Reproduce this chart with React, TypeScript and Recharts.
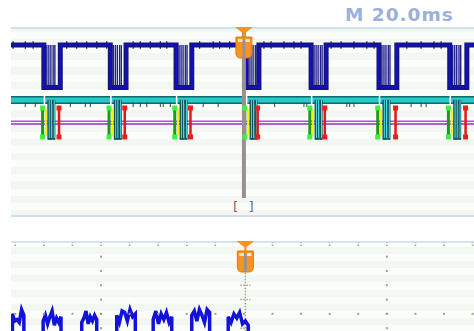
import { ComposedChart, Line, XAxis, YAxis, CartesianGrid, ReferenceLine, ReferenceDot, Scatter } from "recharts"

// time axis in ms, trigger at 0, 20 ms per major division
const timeDomain: [number, number] = [-32.6, 32.2]
const minorTimes = [-32, -28, -24, -20, -16, -12, -8, -4, 0, 4, 8, 12, 16, 20, 24, 28, 32]
const majorTimes = [-20, 20]
const triggerTime = 0
const lowerTriggerTime = 0.2

// channel 1 (upper window), levels in divisions
const highLevel = 7.24
const lowLevel = 5.45
const dipStart = [-28.0, -18.7, -9.5, 0.3, 9.4, 18.9, 28.8]
const dipEnd = [-25.7, -16.5, -7.3, 2.1, 11.5, 21.4, 31.2]
const burstOffsets = [0.42, 0.7, 0.98, 1.3, 1.54]
const noiseTimes = [-32.3, -30.6, -29.5, -24.8, -23.4, -22.0, -20.6, -19.2, -15.5, -14.5, -13.1, -11.7, -10.8, -6.2, -4.3, -3.4, -2.0, 2.8, 3.8, 5.6, 7.0, 8.0, 12.2, 13.6, 15.4, 17.2, 18.2, 22.8, 24.8, 26.6, 27.6]

// bus decode + markers
const busLevel = 4.93
const busTicks = [-30.6, -29.2, -24.3, -22.2, -21.5, -15.5, -14.5, -13.6, -11.7, -11.3, -10.3, -5.7, -3.6, 4.3, 8.4, 8.8, 14.4, 14.8, 15.4, 23.4, 24.8, 25.5]
const markerTop = 4.59
const markerBottom = 3.37
const greenOffset = -0.18
const yellowOffset = 0.28
const cyanOffsets = [0.7, 1.0, 1.4]
const redOffset = -0.18
const purpleUpper = 4.03
const purpleLower = 3.92

// lower window trace
const lowerBase = -1.5
const bumpStart = [-32.4, -28.1, -22.7, -17.8, -12.7, -7.3, -2.2]
const bumpEnd = [-30.8, -25.6, -20.6, -15.2, -10.1, -4.8, 0.6]
const bumpTops = [
  [1.0, 0.5, 0.6, 0.4, 1.3, 0.9],
  [0.5, 0.9, 0.3, 0.8, 1.2, 0.2, 0.7, 0.4, 0.8],
  [0.4, 0.7, 1.2, 0.3, 0.8, 0.5, 0.9, 0.6],
  [0.9, 0.4, 1.2, 1.1, 0.5, 1.3, 0.8, 1.0],
  [0.6, 1.2, 0.3, 1.0, 0.6, 1.1, 0.4, 0.8],
  [0.9, 1.2, 0.5, 1.3, 0.9, 0.4, 1.3, 1.1],
  [0.8, 0.4, 1.0, 0.7, 1.1, 0.3, 0.5, 0.2],
]

const upperStripes = Array.from({ length: 28 }, (_, i) => Math.min(8, i * 0.3))
const lowerStripes = Array.from({ length: 18 }, (_, i) => -2.3 + i * 0.5)

const squareWave = (() => {
  const rows = [{ t: timeDomain[0], v: highLevel }]
  dipStart.forEach((s, i) => {
    rows.push({ t: s, v: highLevel }, { t: s, v: lowLevel }, { t: dipEnd[i], v: lowLevel }, { t: dipEnd[i], v: highLevel })
  })
  rows.push({ t: timeDomain[1], v: highLevel })
  return rows
})()

const busLine = [{ t: timeDomain[0], v: busLevel }, { t: timeDomain[1], v: busLevel }]
const purpleA = [{ t: timeDomain[0], v: purpleUpper }, { t: timeDomain[1], v: purpleUpper }]
const purpleB = [{ t: timeDomain[0], v: purpleLower }, { t: timeDomain[1], v: purpleLower }]

const lowerTrace = (() => {
  const rows: { t: number; v: number }[] = [{ t: timeDomain[0], v: lowerBase }]
  bumpStart.forEach((s, i) => {
    const tops = bumpTops[i]
    const step = (bumpEnd[i] - s) / (tops.length - 1)
    rows.push({ t: s, v: lowerBase })
    tops.forEach((v, k) => rows.push({ t: s + k * step, v }))
    rows.push({ t: bumpEnd[i], v: lowerBase })
  })
  return rows
})()

const greenEnds = dipStart.flatMap((s) => [{ t: s + greenOffset, v: markerTop }, { t: s + greenOffset, v: markerBottom }])
const redEnds = dipEnd.flatMap((e) => [{ t: e + redOffset, v: markerTop }, { t: e + redOffset, v: markerBottom }])

const gridDots = [
  ...minorTimes.map((t) => ({ t, v: 1 })),
  ...majorTimes.flatMap((t) => [0, 1, 2, 3, 4, 5].map((v) => ({ t, v }))),
]

const W = 463

const sq = (color: string) => (p: any) => (
  <rect x={p.cx - 2.5} y={p.cy - 2.5} width={5} height={5} fill={color} />
)
const dot = (p: any) => <rect x={p.cx - 1} y={p.cy - 1} width={2} height={2} fill="#a89f86" />

const Marker = (p: any) => {
  const { cx, cy } = p
  return (
    <g>
      <path d={`M${cx - 9},${cy} L${cx + 9},${cy} L${cx},${cy + 7} Z`} fill="#f7931e" />
      <rect x={cx - 1} y={cy + 6} width={2} height={4} fill="#f7931e" />
      <path
        d={`M${cx - 8},${cy + 10} H${cx + 8} V${cy + 26} Q${cx + 8},${cy + 31} ${cx + 3},${cy + 31} H${cx - 3} Q${cx - 8},${cy + 31} ${cx - 8},${cy + 26} Z`}
        fill="#f7931e"
        stroke="#e07b00"
      />
      <rect x={cx - 6} y={cy + 12} width={12} height={3} fill="#fde6c4" />
      <rect x={cx - 1.5} y={cy + 12} width={3} height={19} fill="#9a9090" />
    </g>
  )
}

const Brackets = (p: any) => (
  <text x={p.cx} y={p.cy} textAnchor="middle" fontFamily="DejaVu Sans Mono" fontSize={12} fill="#606060" letterSpacing={1}>
    [ ]
  </text>
)

const lineProps = { dot: false, activeDot: false, isAnimationActive: false } as const

export default function App() {
  return (
    <div style={{ position: "absolute", left: 0, top: 0, width: 474, height: 331, overflow: "hidden", background: "#fff" }}>
      <svg width={474} height={28} style={{ position: "absolute", left: 0, top: 0 }}>
        <text x={345} y={21} fontFamily="DejaVu Sans" fontWeight="bold" fontSize={18.5} fill="#9db0d8" letterSpacing={1}>
          M 20.0ms
        </text>
      </svg>

      <div style={{ position: "absolute", left: 11, top: 27 }}>
        <ComposedChart width={W} height={190} margin={{ top: 0, right: 0, bottom: 0, left: 0 }}>
          <XAxis dataKey="t" type="number" domain={timeDomain} hide allowDataOverflow />
          <YAxis dataKey="v" type="number" domain={[0, 8]} ticks={upperStripes} interval={0} hide allowDataOverflow />
          <CartesianGrid vertical={false} stroke="none" horizontalFill={["#f2f7f2", "#fbfdfb"]} />
          <ReferenceLine y={7.96} stroke="#cfe0f3" strokeWidth={2} />
          <ReferenceLine y={0.04} stroke="#cfe0f3" strokeWidth={2} />

          {/* purple pair */}
          <Line data={purpleA} dataKey="v" stroke="#b24ae8" strokeWidth={1.5} {...lineProps} />
          <Line data={purpleB} dataKey="v" stroke="#8a2fd0" strokeWidth={1.5} {...lineProps} />

          {/* bus band */}
          <Line data={busLine} dataKey="v" stroke="#0b6b6b" strokeWidth={8} {...lineProps} />
          <Line data={busLine} dataKey="v" stroke="#27c9c9" strokeWidth={5} {...lineProps} />
          {busTicks.map((t) => (
            <ReferenceLine key={"bt" + t} segment={[{ x: t, y: busLevel - 0.12 }, { x: t, y: busLevel - 0.3 }]} stroke="#2a4a4a" strokeWidth={1} />
          ))}
          {dipStart.map((s) => (
            <ReferenceLine key={"notch" + s} segment={[{ x: s + 0.08, y: busLevel + 0.2 }, { x: s + 0.08, y: busLevel - 0.2 }]} stroke="#ffffff" strokeWidth={1.5} />
          ))}

          {/* marker clusters */}
          {dipStart.flatMap((s) =>
            cyanOffsets.map((o) => (
              <ReferenceLine key={"cy" + s + o} segment={[{ x: s + o, y: busLevel }, { x: s + o, y: markerBottom - 0.12 }]} stroke="#0c4f55" strokeWidth={3} />
            ))
          )}
          {dipStart.flatMap((s) =>
            cyanOffsets.map((o) => (
              <ReferenceLine key={"cl" + s + o} segment={[{ x: s + o + 0.05, y: busLevel }, { x: s + o + 0.05, y: markerBottom - 0.05 }]} stroke="#53e0e6" strokeWidth={1} />
            ))
          )}
          {dipStart.map((s) => (
            <ReferenceLine key={"g" + s} segment={[{ x: s + greenOffset, y: markerTop }, { x: s + greenOffset, y: markerBottom }]} stroke="#1d9a1d" strokeWidth={3} />
          ))}
          {dipStart.map((s) => (
            <ReferenceLine key={"y" + s} segment={[{ x: s + yellowOffset, y: markerTop - 0.05 }, { x: s + yellowOffset, y: markerBottom + 0.05 }]} stroke="#f2f200" strokeWidth={2} />
          ))}
          {dipEnd.map((e) => (
            <ReferenceLine key={"r" + e} segment={[{ x: e + redOffset, y: markerTop }, { x: e + redOffset, y: markerBottom }]} stroke="#e01818" strokeWidth={2.5} />
          ))}
          <Scatter data={greenEnds} dataKey="v" shape={sq("#3cf23c")} isAnimationActive={false} />
          <Scatter data={redEnds} dataKey="v" shape={sq("#f01c1c")} isAnimationActive={false} />

          {/* channel 1 */}
          {dipStart.flatMap((s) =>
            burstOffsets.map((o) => (
              <ReferenceLine key={"b" + s + o} segment={[{ x: s + o, y: highLevel }, { x: s + o, y: lowLevel }]} stroke="#22228a" strokeWidth={1.4} />
            ))
          )}
          <Line data={squareWave} dataKey="v" type="linear" stroke="#17176a" strokeWidth={5} {...lineProps} />
          <Line data={squareWave} dataKey="v" type="linear" stroke="#1010c0" strokeWidth={2.5} {...lineProps} />
          {noiseTimes.map((t) => (
            <ReferenceLine key={"n" + t} segment={[{ x: t, y: highLevel + 0.16 }, { x: t, y: highLevel - 0.16 }]} stroke="#17176a" strokeWidth={1.2} />
          ))}

          {/* trigger */}
          <ReferenceLine segment={[{ x: triggerTime, y: 7.9 }, { x: triggerTime, y: 0.8 }]} stroke="#9a9090" strokeWidth={4} />
          <ReferenceDot x={triggerTime} y={8} ifOverflow="visible" shape={Marker} />
          <ReferenceDot x={triggerTime} y={0.27} ifOverflow="visible" shape={Brackets} />
        </ComposedChart>
      </div>

      <div style={{ position: "absolute", left: 11, top: 241 }}>
        <ComposedChart width={W} height={120} margin={{ top: 0, right: 0, bottom: 0, left: 0 }}>
          <XAxis dataKey="t" type="number" domain={timeDomain} hide allowDataOverflow />
          <YAxis dataKey="v" type="number" domain={[-2.3, 6.1]} ticks={lowerStripes} interval={0} hide allowDataOverflow />
          <CartesianGrid vertical={false} stroke="none" horizontalFill={["#fbfdfb", "#f2f7f2"]} />
          <ReferenceLine y={6.05} stroke="#cfe0f3" strokeWidth={2} />

          {minorTimes.map((t) => (
            <ReferenceLine key={"tm" + t} segment={[{ x: t, y: 5.75 }, { x: t, y: 6.0 }]} stroke="#a89f86" strokeWidth={1.5} strokeDasharray="1.5 1.5" />
          ))}
          <Scatter data={gridDots} dataKey="v" shape={dot} isAnimationActive={false} />
          <ReferenceLine segment={[{ x: lowerTriggerTime, y: 4.5 }, { x: lowerTriggerTime, y: -1 }]} stroke="#a89f86" strokeWidth={1.5} strokeDasharray="1.5 1.5" />
          {[3, 2, 0].map((v) => (
            <ReferenceLine key={"cr" + v} segment={[{ x: lowerTriggerTime - 0.7, y: v }, { x: lowerTriggerTime + 0.7, y: v }]} stroke="#a89f86" strokeWidth={1.5} strokeDasharray="1.5 1.5" />
          ))}

          <Line data={lowerTrace} dataKey="v" type="linear" stroke="#1212d8" strokeWidth={3.5} {...lineProps} />
          <ReferenceDot x={lowerTriggerTime} y={6.1} ifOverflow="visible" shape={Marker} />
        </ComposedChart>
      </div>
    </div>
  )
}
